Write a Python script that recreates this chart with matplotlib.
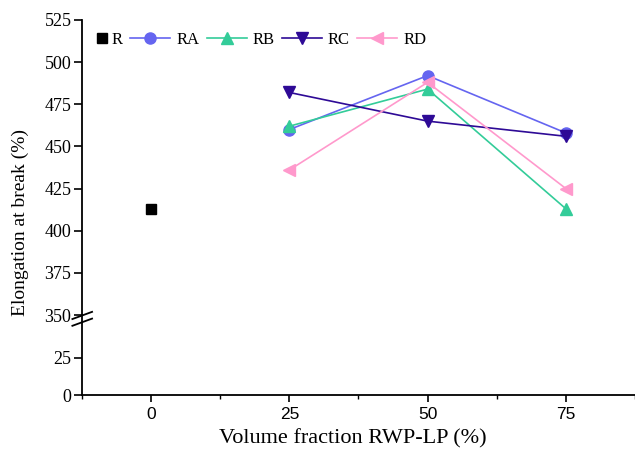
import matplotlib
matplotlib.use('Agg')
import matplotlib.pyplot as plt
from matplotlib.ticker import MultipleLocator
from matplotlib.legend_handler import HandlerLine2D

# data
frac = [25, 50, 75]
r_x = [0]
r_y = [413]
ra = [460, 492, 458]
rb = [462, 484, 413]
rc = [482, 465, 456]
rd = [436, 488, 425]

plt.rcParams['font.family'] = 'Liberation Serif'


class MarkerRight(HandlerLine2D):
    # R entry: marker sits right next to its text, no line
    def get_xdata(self, legend, xdescent, ydescent, width, height, fontsize):
        x1 = -xdescent + width
        return [x1 - 6, x1], [x1 - 3]


fig = plt.figure(figsize=(6.35, 4.5), dpi=100)
ax_top = fig.add_axes([0.129, 0.30, 0.871, 0.6556])
ax_bot = fig.add_axes([0.129, 0.1222, 0.871, 0.1778], sharex=ax_top)

for ax in (ax_top, ax_bot):
    ax.plot(r_x, r_y, 's', color='black', ms=6.5, label='R')
    ax.plot(frac, ra, '-o', color='#6565f0', ms=8, lw=1.2, label='RA')
    ax.plot(frac, rb, '-^', color='#33cc99', ms=8, lw=1.2, label='RB')
    ax.plot(frac, rc, '-v', color='#2e0a96', ms=8, lw=1.2, label='RC')
    ax.plot(frac, rd, '-<', color='#ff99cc', ms=8, lw=1.2, label='RD')
    ax.spines['top'].set_visible(False)
    ax.spines['right'].set_visible(False)
    for s in ('left', 'bottom'):
        ax.spines[s].set_linewidth(1.3)

ax_top.set_ylim(350, 525)
ax_top.set_yticks([350, 375, 400, 425, 450, 475, 500, 525])
ax_top.spines['bottom'].set_visible(False)
ax_top.tick_params(axis='x', bottom=False, labelbottom=False)
ax_top.tick_params(axis='y', direction='out', length=5.5, width=1.2, labelsize=13, pad=2)

ax_bot.set_ylim(0, 54)
ax_bot.set_yticks([0, 25])
ax_bot.tick_params(axis='y', direction='out', length=5.5, width=1.2, labelsize=13, pad=2)
ax_bot.set_xlim(-12.5, 87.5)
ax_bot.set_xticks([0, 25, 50, 75])
ax_bot.xaxis.set_minor_locator(MultipleLocator(12.5))
ax_bot.tick_params(axis='x', which='major', direction='out', length=5, width=1.2, labelsize=12.5)
ax_bot.tick_params(axis='x', which='minor', direction='out', length=3, width=1.0)
for lab in ax_bot.get_xticklabels():
    lab.set_family('Liberation Sans')

# break marks on y axis
kw = dict(transform=fig.transFigure, color='black', lw=1.3, clip_on=False)
for dy in (0.0, 0.015):
    fig.add_artist(plt.Line2D([0.114, 0.145], [0.276 + dy, 0.292 + dy], **kw))

ax_bot.set_xlabel('Volume fraction RWP-LP (%)', fontsize=16, labelpad=3)
ax_bot.xaxis.set_label_coords(0.49, -0.42)
fig.text(0.032, 0.505, 'Elongation at break (%)', rotation=90, fontsize=14,
         va='center', ha='center')

h, l = ax_top.get_legend_handles_labels()
ax_top.legend(h, l, loc='upper left', bbox_to_anchor=(-0.05, 1.0), ncol=5, frameon=False,
              fontsize=12, handlelength=2.4, handletextpad=0.35, columnspacing=0.45,
              borderaxespad=0.3, handler_map={h[0]: MarkerRight()})

fig.savefig('out.png', dpi=100)
